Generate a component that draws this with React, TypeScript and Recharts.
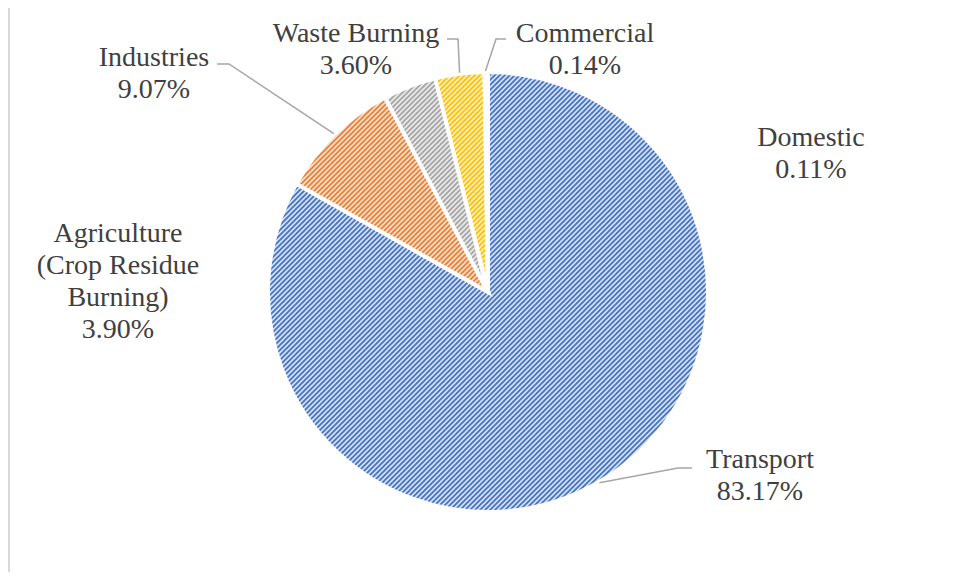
import React from 'react';
import { Cell, Pie, PieChart } from 'recharts';

// categories in Excel order, clockwise from 12 o'clock
const categories = [
    'Transport',
    'Industries',
    'Agriculture (Crop Residue Burning)',
    'Waste Burning',
    'Commercial',
    'Domestic',
];
const shares = [83.17, 9.07, 3.9, 3.6, 0.14, 0.11];

const data = categories.map((name, i) => ({ name, value: shares[i] }));

// hatch colours: [stripe, background]
const HATCH: [string, string][] = [
    ['#4472C4', '#D3DEF3'],
    ['#ED7D31', '#FCDFCB'],
    ['#A5A5A5', '#E8E8E8'],
    ['#FFC000', '#FFEFBF'],
    ['#5B9BD5', '#DCEAF6'],
    ['#70AD47', '#DFEED5'],
];

const W = 958;
const H = 580;
const CX = 488;
const CY = 292;
const R = 220;
const LINE_H = 32;
const RADIAN = Math.PI / 180;

// label placement, offsets from the pie centre (x = text centre, y = first baseline)
const LABELS: Record<string, { dx: number; dy: number; lines: string[]; leader?: number[][] }> = {
    Transport: { dx: 272, dy: 176, lines: ['Transport'], leader: [[190, 176], [204, 176]] },
    Industries: { dx: -334, dy: -226, lines: ['Industries'], leader: [[-259, -228], [-271, -228]] },
    'Agriculture (Crop Residue Burning)': {
        dx: -370,
        dy: -50,
        lines: ['Agriculture', '(Crop Residue', 'Burning)'],
    },
    'Waste Burning': { dx: -132, dy: -250, lines: ['Waste Burning'], leader: [[-30, -253], [-41, -253]] },
    Commercial: { dx: 97, dy: -250, lines: ['Commercial'], leader: [[8, -253], [18, -253]] },
    Domestic: { dx: 323, dy: -146, lines: ['Domestic'] },
};

const SliceLabel = (props: any) => {
    const { cx = 0, cy = 0, midAngle = 0, outerRadius = 0, name, value } = props;
    const spec = LABELS[name];
    if (!spec) return null;
    const lines = [...spec.lines, `${Number(value).toFixed(2)}%`];
    let leader = null;
    if (spec.leader) {
        const sx = cx + (outerRadius + 1) * Math.cos(-midAngle * RADIAN);
        const sy = cy + (outerRadius + 1) * Math.sin(-midAngle * RADIAN);
        const pts = [[sx, sy], ...spec.leader.map(([x, y]) => [cx + x, cy + y])];
        leader = (
            <polyline
                points={pts.map((p) => p.join(',')).join(' ')}
                fill="none"
                stroke="#A6A6A6"
                strokeWidth={1.5}
            />
        );
    }
    return (
        <g>
            {leader}
            <text
                x={cx + spec.dx}
                y={cy + spec.dy}
                textAnchor="middle"
                fill="#404040"
                fontSize={28}
                fontFamily="'Liberation Serif', serif"
            >
                {lines.map((t, i) => (
                    <tspan key={t} x={cx + spec.dx} dy={i === 0 ? 0 : LINE_H}>
                        {t}
                    </tspan>
                ))}
            </text>
        </g>
    );
};

export default function App() {
    return (
        <div style={{ position: 'relative', width: W, height: H, margin: -8, overflow: 'hidden' }}>
            <svg width={0} height={0} style={{ position: 'absolute' }}>
                <defs>
                    {HATCH.map(([fg, bg], i) => (
                        <pattern
                            key={i}
                            id={`hatch-${i}`}
                            patternUnits="userSpaceOnUse"
                            width={5}
                            height={5}
                        >
                            <rect width={5} height={5} fill={bg} />
                            <path
                                d="M0,5 L5,0 M-1,1 L1,-1 M4,6 L6,4"
                                stroke={fg}
                                strokeWidth={1.7}
                            />
                        </pattern>
                    ))}
                </defs>
            </svg>
            <div
                style={{
                    position: 'absolute',
                    left: 8,
                    top: 4,
                    width: 950,
                    height: 575,
                    boxSizing: 'border-box',
                    borderLeft: '2px solid #D9D9D9',
                    borderTop: '2px solid #D9D9D9',
                    borderBottom: '2px solid #D9D9D9',
                }}
            />
            <div style={{ position: 'absolute', left: 0, top: 0 }}>
                <PieChart width={W} height={H} margin={{ top: 0, right: 0, bottom: 0, left: 0 }}>
                    <Pie
                        data={data}
                        dataKey="value"
                        nameKey="name"
                        cx={CX}
                        cy={CY}
                        outerRadius={R}
                        startAngle={90}
                        endAngle={-270}
                        stroke="#FFFFFF"
                        strokeWidth={4}
                        labelLine={false}
                        label={(props) => <SliceLabel {...props} />}
                        isAnimationActive={false}
                    >
                        {data.map((entry, i) => (
                            <Cell key={`cell-${entry.name}`} fill={`url(#hatch-${i})`} />
                        ))}
                    </Pie>
                </PieChart>
            </div>
        </div>
    );
}
